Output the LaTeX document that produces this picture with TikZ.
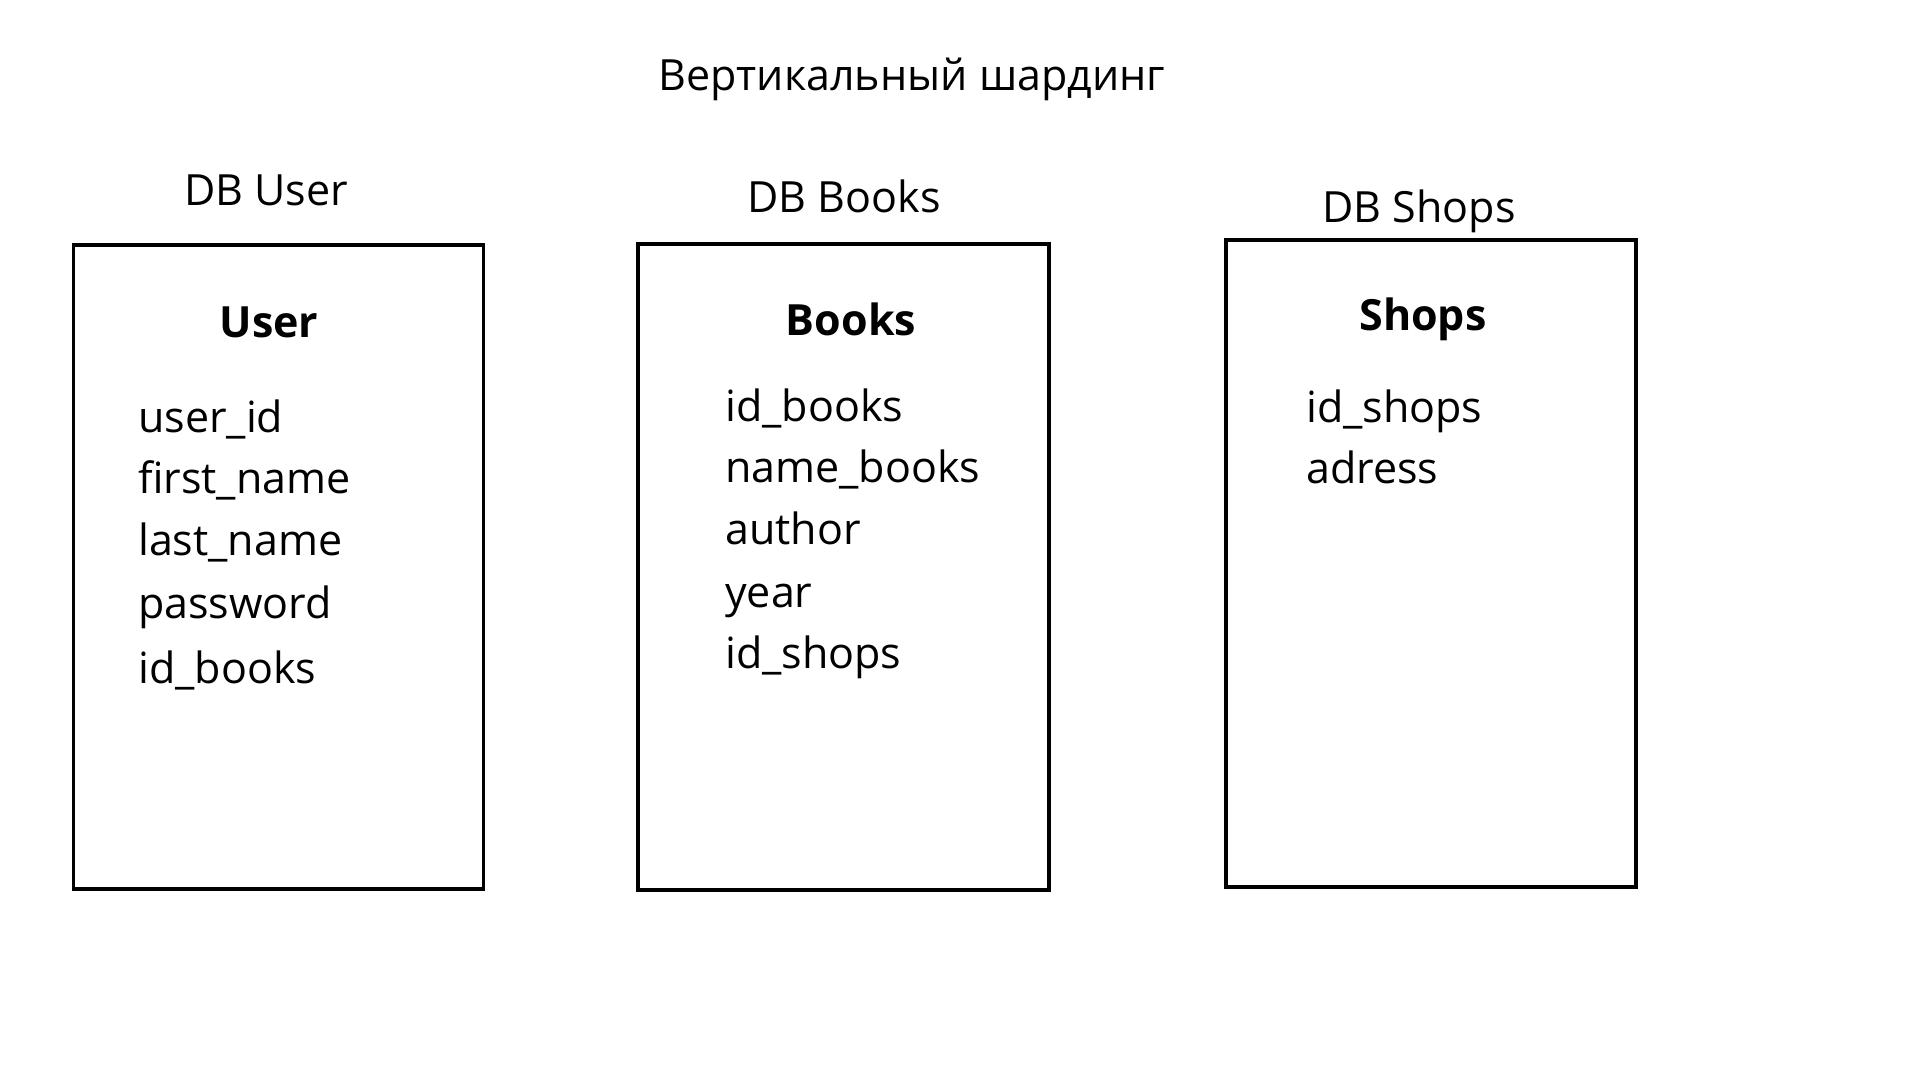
\documentclass[tikz,border=0pt]{standalone}
\usepackage{fontspec}
\setmainfont{Open Sans}
\usepackage{tikz}
\usetikzlibrary{positioning}
\tikzset{
    dbbox/.style={draw, line width=3.2pt, inner sep=0pt},
    dblabel/.style={anchor=base, inner sep=0pt, font=\fontsize{43}{52}\selectfont},
    tabhead/.style={anchor=base, inner sep=0pt, font=\fontsize{43}{52}\selectfont\bfseries},
    field/.style={anchor=base west, inner sep=0pt, font=\fontsize{43}{52}\selectfont}
}

\begin{document}
\begin{tikzpicture}[x=1pt, y=-1pt]
                \useasboundingbox (0,0) rectangle (1920,1080);

                % Title
                \node[dblabel] (title) at (912, 90) {Вертикальный шардинг};

                % DB User
                \node[dblabel] (userdb) at (266, 205) {DB User};
                \node[dbbox, minimum width=410pt, minimum height=644pt] (userbox) at (278.5, 567) {};
                \node[tabhead] (userhead) at (269, 337) {User};
                \node[field] (userid) at (138, 432) {user\_id};
                \node[field] (firstname) at (138, 493) {first\_name};
                \node[field] (lastname) at (138, 555) {last\_name};
                \node[field] (password) at (138, 618) {password};
                \node[field] (useridbooks) at (138, 683) {id\_books};

                % DB Books
                \node[dblabel] (booksdb) at (844, 212) {DB Books};
                \node[dbbox, minimum width=411pt, minimum height=646pt] (booksbox) at (843.5, 567) {};
                \node[tabhead] (bookshead) at (851, 335) {Books};
                \node[field] (idbooks) at (725, 421) {id\_books};
                \node[field] (namebooks) at (725, 482) {name\_books};
                \node[field] (author) at (725, 544) {author};
                \node[field] (year) at (725, 607) {year};
                \node[field] (booksidshops) at (725, 668) {id\_shops};

                % DB Shops
                \node[dblabel] (shopsdb) at (1419, 222) {DB Shops};
                \node[dbbox, minimum width=410pt, minimum height=647pt] (shopsbox) at (1431, 563.5) {};
                \node[tabhead] (shopshead) at (1423, 330) {Shops};
                \node[field] (idshops) at (1306, 422) {id\_shops};
                \node[field] (adress) at (1306, 483) {adress};
\end{tikzpicture}
\end{document}
